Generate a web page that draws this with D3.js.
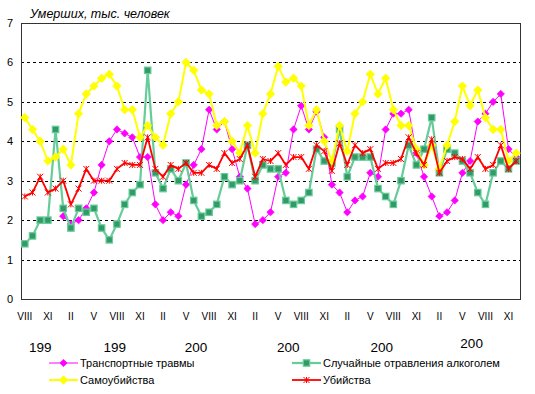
<!DOCTYPE html>
<html>
<head>
<meta charset="utf-8">
<script src="https://cdn.jsdelivr.net/npm/d3@7"></script>
<style>
  body { margin: 0; background: #fff; }
  svg { display: block; font-family: "Liberation Sans", Arial, sans-serif; }
</style>
</head>
<body>
<svg id="chart" width="535" height="394"></svg>
<script>
// monthly values, Aug of first year .. Dec of last year (65 months)
const romanTicks = ["VIII", "XI", "II", "V"];
const yearLabels = ["199", "199", "200", "200", "200", "200"];
const yearAt = [2, 11.7, 22.3, 34.3, 46.5, 58.2]; // category index where each year label sits
const yTicks = [0, 1, 2, 3, 4, 5, 6, 7];

const transport = [null, null, null, null, null,
  2.1, 1.9, 2.0, 2.3, 2.7, 3.4, 4.0, 4.3, 4.2, 4.1, 3.6, 3.6, 2.4, 2.0, 2.2,
  2.1, 2.9, 3.4, 3.8, 4.8, 4.3, 4.5, 3.8, 3.1, 2.8, 1.9, 2.0, 2.2, 3.1, 3.2,
  4.3, 4.9, 4.3, 4.75, 4.1, 2.9, 2.7, 2.2, 2.5, 2.6, 3.2, 3.1, 4.3, 4.7, 4.7,
  4.8, 3.7, 3.1, 2.6, 2.1, 2.2, 2.5, 3.2, 3.5, 4.5, 4.7, 5.0, 5.2, 3.8, 3.6];
const alcohol = [1.4, 1.6, 2.0, 2.0, 4.3, 2.3, 1.8, 2.3, 2.2, 2.3, 1.8, 1.5, 1.9,
  2.4, 2.7, 2.9, 5.8, 3.2, 2.8, 3.3, 3.0, 3.45, 2.5, 2.1, 2.2, 2.4, 3.1, 2.9, 3.0,
  3.9, 3.0, 3.4, 3.3, 3.3, 2.5, 2.4, 2.5, 2.7, 3.8, 3.5, 3.45, 4.3, 3.1, 3.6, 3.6,
  3.6, 2.8, 2.6, 2.4, 3.0, 3.9, 3.4, 3.8, 4.6, 3.2, 3.8, 3.7, 3.5, 3.2, 2.7, 2.4,
  3.2, 3.5, 3.3, 3.5];
const suicide = [4.6, 4.3, 4.0, 3.5, 3.6, 3.8, 3.4, 4.7, 5.2, 5.4, 5.6, 5.7, 5.4,
  4.8, 4.8, 4.1, 4.4, 4.1, 3.9, 4.7, 5.0, 6.0, 5.8, 5.3, 5.2, 4.4, 4.5, 4.0, 3.7,
  4.4, 3.7, 4.7, 5.2, 5.9, 5.5, 5.6, 5.4, 4.4, 4.8, 4.0, 3.5, 4.4, 3.75, 4.7, 5.0,
  5.7, 5.2, 5.6, 4.8, 4.4, 4.4, 3.8, 3.4, 3.9, 3.3, 3.9, 4.5, 5.4, 4.9, 5.3, 4.6,
  4.3, 4.3, 3.5, 3.7];
const murder = [2.6, 2.7, 3.1, 2.7, 2.8, 3.0, 2.4, 2.8, 3.3, 3.0, 3.0, 3.0, 3.3,
  3.45, 3.4, 3.4, 4.1, 3.3, 3.1, 3.4, 3.3, 3.45, 3.2, 3.2, 3.4, 3.3, 3.7, 3.45, 3.55,
  3.9, 3.1, 3.55, 3.5, 3.7, 3.4, 3.6, 3.6, 3.3, 3.9, 3.75, 3.25, 3.95, 3.4, 3.9, 3.7,
  3.8, 3.3, 3.45, 3.45, 3.55, 4.1, 3.7, 3.4, 4.05, 3.2, 3.5, 3.6, 3.55, 3.3, 3.6, 3.3,
  3.4, 3.9, 3.3, 3.5];

const series = [
  { name: "Транспортные травмы", values: transport, line: "#ff00ff", width: 1, marker: "diamond", size: 3.6, fill: "#ff00ff", stroke: "#ff00ff" },
  { name: "Случайные отравления алкоголем", values: alcohol, line: "#66cc99", width: 2.2, marker: "square", size: 3.2, fill: "#339966", stroke: "#66cc99" },
  { name: "Самоубийства", values: suicide, line: "#ffff00", width: 2, marker: "diamond", size: 4.2, fill: "#ffff00", stroke: "#ffff00" },
  { name: "Убийства", values: murder, line: "#ff0000", width: 1.8, marker: "x", size: 3, fill: "none", stroke: "#ff0000" }
];

const n = suicide.length;
const margin = { left: 21, right: 15, top: 23, bottom: 95 };
const width = 535, height = 394;

const svg = d3.select("#chart");
const x = d3.scaleLinear().domain([-0.5, n - 0.5]).range([margin.left, width - margin.right]);
const y = d3.scaleLinear().domain([0, 7]).range([height - margin.bottom, margin.top]);

// dashed grid
svg.append("g").selectAll("line").data(yTicks.filter(d => d > 0 && d < 7)).join("line")
  .attr("x1", x.range()[0]).attr("x2", x.range()[1])
  .attr("y1", d => Math.round(y(d)) + 0.5).attr("y2", d => Math.round(y(d)) + 0.5)
  .attr("stroke", "#000").attr("stroke-dasharray", "3,3").attr("stroke-width", 1);

// plot frame
svg.append("rect")
  .attr("x", x.range()[0] + 0.5).attr("y", y(7) + 0.5)
  .attr("width", x.range()[1] - x.range()[0]).attr("height", y(0) - y(7))
  .attr("fill", "none").attr("stroke", "#333").attr("stroke-width", 1);

// y labels
svg.append("g").selectAll("text").data(yTicks).join("text")
  .attr("x", 13).attr("y", d => y(d) + 4).attr("text-anchor", "end")
  .attr("font-size", 11).attr("fill", "#000").text(d => d);

// title
svg.append("text").attr("x", 30).attr("y", 18)
  .attr("font-size", 12.5).attr("font-style", "italic").attr("fill", "#000")
  .text("Умерших, тыс. человек");

// month labels every 3rd category
const monthIdx = d3.range(0, n, 3);
svg.append("g").selectAll("text").data(monthIdx).join("text")
  .attr("x", d => x(d)).attr("y", 320).attr("text-anchor", "middle")
  .attr("font-size", 10).attr("fill", "#000")
  .attr("transform", d => `translate(0,0)`)
  .text((d, i) => romanTicks[i % 4]);

// year labels
svg.append("g").selectAll("text").data(yearLabels).join("text")
  .attr("x", (d, i) => x(yearAt[i])).attr("y", (d, i) => i === 5 ? 348 : 352)
  .attr("text-anchor", "middle").attr("font-size", 13.5).attr("fill", "#000")
  .text(d => d);

function drawMarker(g, s, cx, cy) {
  const r = s.size;
  if (s.marker === "diamond") {
    g.append("path").attr("d", `M${cx},${cy - r}L${cx + r},${cy}L${cx},${cy + r}L${cx - r},${cy}Z`)
      .attr("fill", s.fill).attr("stroke", s.stroke).attr("stroke-width", 0.8);
  } else if (s.marker === "square") {
    g.append("rect").attr("x", cx - r).attr("y", cy - r).attr("width", 2 * r).attr("height", 2 * r)
      .attr("fill", s.fill).attr("stroke", s.stroke).attr("stroke-width", 1.2);
  } else {
    g.append("path").attr("d", `M${cx - r},${cy - r}L${cx + r},${cy + r}M${cx - r},${cy + r}L${cx + r},${cy - r}M${cx},${cy - r}L${cx},${cy + r}`)
      .attr("stroke", s.stroke).attr("stroke-width", 1).attr("fill", "none");
  }
}

// series
series.forEach(s => {
  const g = svg.append("g");
  const line = d3.line().defined(d => d != null).x((d, i) => x(i)).y(d => y(d));
  g.append("path").attr("d", line(s.values)).attr("fill", "none")
    .attr("stroke", s.line).attr("stroke-width", s.width).attr("stroke-linejoin", "round");
  s.values.forEach((v, i) => { if (v != null) drawMarker(g, s, x(i), y(v)); });
});

// legend
const legendPos = [[49, 363], [292, 363], [49, 380], [292, 380]];
series.forEach((s, i) => {
  const [lx, ly] = legendPos[i];
  const g = svg.append("g");
  g.append("line").attr("x1", lx).attr("x2", lx + 29).attr("y1", ly).attr("y2", ly)
    .attr("stroke", s.line).attr("stroke-width", s.width);
  drawMarker(g, s, lx + 14.5, ly);
  g.append("text").attr("x", lx + 31).attr("y", ly + 4).attr("font-size", 11).attr("fill", "#000")
    .text(s.name);
});
</script>
</body>
</html>
